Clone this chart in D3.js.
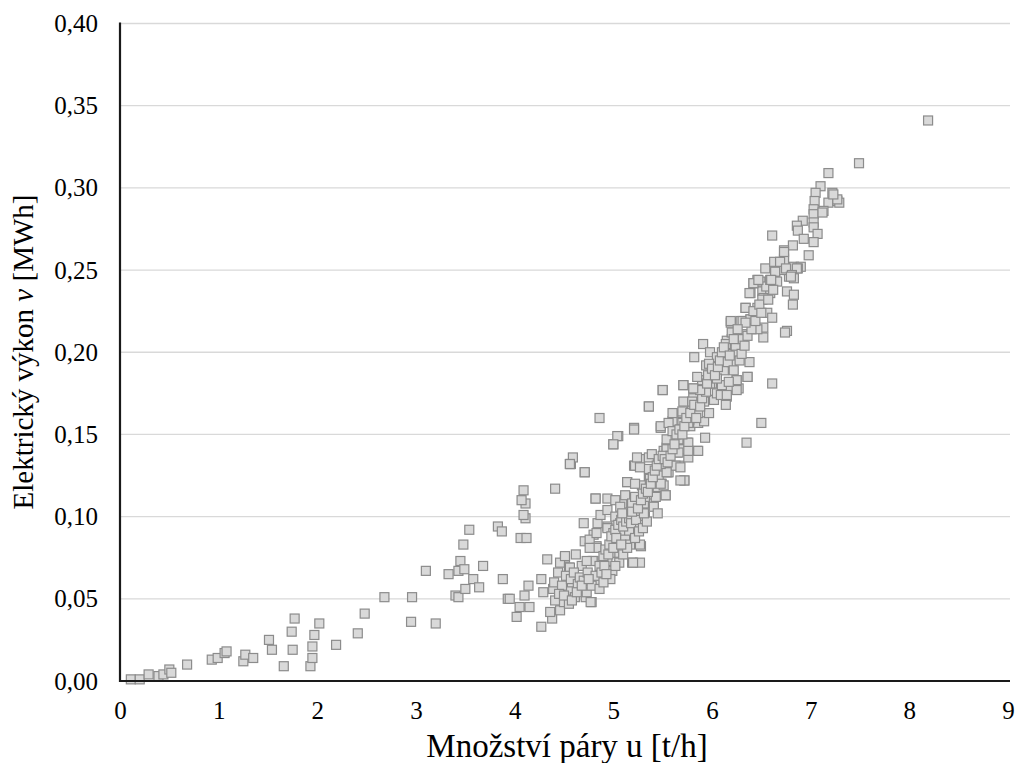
<!DOCTYPE html>
<html>
<head>
<meta charset="utf-8">
<script src="https://cdn.jsdelivr.net/npm/d3@7"></script>
<style>
  html, body { margin: 0; padding: 0; background: #fff; }
  svg { display: block; }
  svg text { font-family: "Liberation Serif", "Times New Roman", "DejaVu Serif", serif; fill: #000; }
</style>
</head>
<body>
<svg id="chart" width="1015" height="763"></svg>
<script>
// ---- data: [steam flow u (t/h), electric output v (MWh)] ----
const lowPoints = [
  [0.11,0.001],[0.20,0.001],[0.29,0.004],[0.39,0.003],[0.44,0.004],[0.50,0.007],[0.52,0.005],
  [0.68,0.010],[0.93,0.013],[0.99,0.014],[1.06,0.017],[1.08,0.018],[1.25,0.012],[1.27,0.016],
  [1.35,0.014],[1.51,0.025],[1.54,0.019],[1.66,0.009],[1.74,0.030],[1.75,0.019],[1.77,0.038],
  [1.93,0.009],[1.95,0.014],[1.95,0.021],[1.97,0.028],[2.02,0.035],[2.19,0.022],[2.41,0.029],
  [2.48,0.041],[2.68,0.051],[2.95,0.036],[2.96,0.051],[3.10,0.067],[3.20,0.035]
];
const scatterPoints = [
  [3.33,0.065],[3.40,0.052],[3.43,0.051],[3.43,0.067],[3.45,0.073],[3.48,0.083],[3.49,0.068],
  [3.50,0.056],[3.54,0.092],[3.58,0.062],[3.64,0.057],[3.68,0.070],[3.83,0.094],[3.87,0.091],
  [3.88,0.062],[3.93,0.050],[4.02,0.039],[4.05,0.045],[4.15,0.045],[4.10,0.052],[4.14,0.058],
  [4.06,0.087],[4.12,0.087],[4.11,0.099],[4.09,0.101],[4.11,0.108],[4.07,0.110],[4.09,0.116],
  [4.27,0.033],[4.33,0.074],[4.27,0.062],[4.29,0.054],[4.38,0.038],[4.36,0.042],[4.46,0.043],
  [4.41,0.117],[4.57,0.132],[4.59,0.136],[4.56,0.132],[4.71,0.127],[4.86,0.160],[5.36,0.167],
  [5.21,0.154],[5.05,0.149],[5.00,0.144],[5.50,0.177],[6.61,0.181],[6.50,0.157],[6.35,0.145],
  [6.76,0.213],[6.74,0.212],[6.61,0.271],[8.19,0.341],[7.49,0.315]
];
const bandLower = [
  [4.70,0.096],[4.82,0.111],[5.72,0.122],[5.53,0.113],[5.28,0.082],[5.27,0.072],[5.19,0.072],
  [4.78,0.048],[4.51,0.075],[4.46,0.072],[4.55,0.069],[4.68,0.070],[4.62,0.077],[4.80,0.073],
  [4.94,0.073],[4.99,0.067],[5.05,0.078],[5.15,0.090],[5.21,0.092],[4.80,0.089],[4.83,0.082],
  [4.94,0.094],[5.02,0.085],[5.09,0.101],[5.31,0.100],[5.38,0.107],[5.41,0.112],[5.49,0.120],
  [5.55,0.127],[5.14,0.121],[5.21,0.131],[5.27,0.133],[5.36,0.123],[5.51,0.140],[5.66,0.147],
  [5.70,0.163],[5.80,0.165],[5.75,0.145],[5.67,0.131],[5.57,0.144],[5.48,0.154],[5.60,0.158],
  [3.95,0.050],[4.41,0.049],[4.39,0.056],[4.50,0.048],[4.55,0.047],[4.55,0.055],[4.58,0.060],
  [4.61,0.051],[4.67,0.056],[4.72,0.051],[4.73,0.054],[4.77,0.048],[4.80,0.063],[4.85,0.059],
  [4.51,0.076],[4.56,0.069],[4.71,0.085],[4.76,0.086],[4.79,0.073],[4.83,0.081],[4.87,0.068],
  [4.97,0.078],[4.83,0.090],[4.94,0.093],[5.04,0.085],[4.84,0.096],[4.87,0.101],[4.94,0.104],
  [5.02,0.100],[5.07,0.096],[5.11,0.090],[5.16,0.091],[5.27,0.083],[5.20,0.072],[5.09,0.108],
  [5.19,0.105],[5.22,0.100],[5.31,0.108],[5.41,0.108],[5.32,0.100],[5.26,0.095],[4.73,0.073],
  [4.76,0.081],[5.00,0.090],
  [4.40,0.060],[4.44,0.066],[4.48,0.058],[4.52,0.064],[4.57,0.062],[4.60,0.066],[4.64,0.059],
  [4.66,0.063],[4.70,0.061],[4.74,0.066],[4.78,0.058],[4.82,0.064],[4.86,0.070],[4.90,0.076],
  [4.92,0.080],[4.96,0.083],[4.98,0.088],[5.02,0.092],[5.05,0.095],[5.08,0.098],[4.45,0.053],
  [4.50,0.052],[4.58,0.049],[4.63,0.054],[4.68,0.058],[4.75,0.062],[4.88,0.066],[4.91,0.070],
  [4.95,0.077],[5.00,0.081],[5.03,0.087],[5.10,0.094],[5.13,0.097],[5.16,0.099],[5.18,0.096],
  [5.23,0.098],[5.12,0.086],[5.17,0.083],[5.22,0.087],[5.26,0.091],[5.30,0.093],[5.34,0.097],
  [5.06,0.072],[5.10,0.077],[5.14,0.081],[4.97,0.062],[5.02,0.070],[5.08,0.083],[4.86,0.056],
  [4.90,0.060],[4.93,0.065]
];
const bandMiddle = [
  [5.04,0.149],[5.00,0.144],[5.21,0.153],[5.36,0.167],[5.50,0.177],[4.56,0.132],[4.71,0.127],
  [4.82,0.111],[4.94,0.111],[5.02,0.110],[5.12,0.113],[5.14,0.121],[5.22,0.131],[5.27,0.135],
  [5.36,0.136],[5.36,0.129],[5.29,0.119],[5.37,0.123],[5.46,0.125],[5.45,0.118],[5.51,0.119],
  [5.07,0.106],[5.19,0.108],[5.31,0.108],[5.41,0.106],[5.19,0.103],[5.09,0.102],[5.31,0.102],
  [5.54,0.142],[5.48,0.133],[5.56,0.127],[5.63,0.131],[5.68,0.130],[5.76,0.136],[5.72,0.122],
  [5.65,0.139],[5.70,0.141],[5.76,0.145],[5.85,0.140],[5.93,0.148],[5.54,0.147],[5.66,0.147],
  [5.48,0.155],[5.56,0.157],[5.70,0.157],[5.78,0.155],[5.86,0.157],[5.92,0.158],[5.60,0.163],
  [5.70,0.164],[5.80,0.165],[5.77,0.159],[5.86,0.163],[5.97,0.163],[5.71,0.170],[5.81,0.172],
  [5.92,0.175],[6.00,0.171],[5.81,0.178],[5.71,0.180],[5.90,0.181],[6.00,0.181],[5.45,0.102],
  [5.22,0.112],[5.32,0.112],[5.43,0.112],[5.53,0.113],[5.22,0.120],[5.48,0.120],[5.54,0.127],
  [5.68,0.122],[5.27,0.130],[5.48,0.132],[5.24,0.136],[5.39,0.138],[5.54,0.141],[5.66,0.139],
  [5.76,0.140],[5.86,0.140],[5.60,0.152],[5.68,0.153],[5.76,0.157],[5.80,0.170],[5.92,0.170],
  [6.02,0.171],[6.05,0.175],[6.15,0.173],[6.14,0.168],
  [5.25,0.105],[5.28,0.110],[5.30,0.114],[5.33,0.117],[5.35,0.115],[5.38,0.120],[5.40,0.124],
  [5.42,0.128],[5.44,0.131],[5.46,0.135],[5.50,0.137],[5.52,0.135],[5.55,0.133],[5.58,0.137],
  [5.60,0.141],[5.62,0.144],[5.64,0.150],[5.67,0.153],[5.70,0.150],[5.72,0.155],[5.74,0.160],
  [5.78,0.163],[5.82,0.168],[5.84,0.160],[5.88,0.167],[5.90,0.172],[5.94,0.176]
];
const bandUpper = [
  [5.71,0.180],[5.82,0.197],[5.91,0.205],[5.98,0.200],[6.05,0.197],[5.94,0.192],[6.05,0.189],
  [6.12,0.189],[6.15,0.198],[6.20,0.194],[6.27,0.201],[6.38,0.194],[6.36,0.185],[6.25,0.183],
  [6.19,0.179],[6.10,0.180],[5.98,0.181],[5.90,0.183],[5.88,0.177],[5.81,0.178],[6.09,0.174],
  [6.15,0.174],[6.27,0.178],[6.20,0.208],[6.27,0.205],[6.15,0.207],[6.31,0.211],[6.19,0.218],
  [6.29,0.219],[6.39,0.220],[6.52,0.215],[6.52,0.209],[6.46,0.214],[6.56,0.224],[6.61,0.221],
  [6.34,0.227],[6.46,0.227],[6.39,0.236],[6.42,0.242],[6.49,0.243],[6.51,0.237],[6.59,0.236],
  [6.59,0.243],[6.52,0.233],[6.64,0.249],[6.68,0.254],[6.25,0.183],[6.25,0.177],[6.17,0.182],
  [5.95,0.181],[6.05,0.184],[5.85,0.185],[5.97,0.193],[6.15,0.199],[6.25,0.200],[6.14,0.205],
  [6.24,0.204],[6.31,0.208],[6.20,0.212],[6.31,0.219],[6.19,0.219],[6.34,0.227],[6.39,0.220],
  [6.51,0.232],[6.66,0.243],[6.54,0.251],[6.63,0.255],[6.73,0.257],[6.83,0.252],[6.90,0.252],
  [6.36,0.185],[6.38,0.236],[6.76,0.237],[6.83,0.235],[6.78,0.246],[6.82,0.247],[6.87,0.251],
  [6.73,0.250],[6.82,0.229],
  [5.96,0.186],[6.00,0.190],[6.03,0.186],[6.06,0.191],[6.08,0.195],[6.10,0.200],[6.12,0.203],
  [6.16,0.194],[6.18,0.198],[6.22,0.189],[6.28,0.195],[6.30,0.199],[6.33,0.204],[6.36,0.210],
  [6.40,0.214],[6.44,0.219],[6.42,0.225],[6.48,0.229],[6.50,0.224],[6.55,0.240],[6.57,0.232],
  [6.62,0.238],[6.34,0.218],[6.26,0.214],[6.22,0.208]
];
const topPoints = [
  [7.18,0.309],[7.10,0.301],[7.05,0.297],[7.22,0.297],[7.18,0.291],[7.27,0.292],[7.04,0.292],
  [7.03,0.287],[7.13,0.286],[7.03,0.284],[7.03,0.279],[6.92,0.280],[6.86,0.277],[6.87,0.274],
  [7.03,0.276],[7.07,0.272],[6.93,0.269],[7.03,0.267],[6.82,0.265],[6.98,0.259],[6.73,0.262],
  [6.73,0.256],[6.69,0.255],[6.64,0.249],[6.75,0.251],[6.86,0.251],[6.81,0.247],[6.83,0.245],
  [6.59,0.244],[6.46,0.244],[6.42,0.242],[7.29,0.291],[7.27,0.293],[7.23,0.296],[7.12,0.285],
  [6.73,0.261],[6.47,0.244],[6.60,0.244],[6.80,0.246]
];

const xTicks = [0,1,2,3,4,5,6,7,8,9];
const yTicks = [0,0.05,0.10,0.15,0.20,0.25,0.30,0.35,0.40];
const xTitle = "Množství páry u [t/h]";
const yTitleParts = ["Elektrický výkon ", "v", " [MWh]"];

const allPoints = [].concat(lowPoints, scatterPoints, bandLower, bandMiddle, bandUpper, topPoints);

// ---- layout ----
const FONT = "'Liberation Serif', 'Times New Roman', 'DejaVu Serif', serif";
const svg = d3.select("#chart");
const plotLeft = 120, plotRight = 1008, plotTop = 23.5, plotBottom = 681;
const x = d3.scaleLinear().domain([0, 9]).range([plotLeft, plotRight]);
const y = d3.scaleLinear().domain([0, 0.40]).range([plotBottom, plotTop]);
const fmtY = v => d3.format(".2f")(v).replace(".", ",");

// gridlines
svg.append("g")
  .selectAll("line")
  .data(yTicks.filter(d => d > 0))
  .join("line")
  .attr("x1", plotLeft).attr("x2", 1010)
  .attr("y1", d => y(d)).attr("y2", d => y(d))
  .attr("stroke", "#d9d9d9").attr("stroke-width", 1.3);

// y axis
const yAxis = svg.append("g")
  .attr("transform", `translate(${plotLeft},0)`)
  .call(d3.axisLeft(y).tickValues(yTicks).tickFormat(fmtY).tickSize(0).tickPadding(22));
yAxis.attr("font-family", FONT).attr("font-size", 25);
yAxis.select(".domain").remove();
yAxis.selectAll("text")
  .style("font-family", FONT)
  .style("font-size", "25px").attr("fill", "#000");

// x axis
const xAxis = svg.append("g")
  .attr("transform", `translate(0,${plotBottom})`)
  .call(d3.axisBottom(x).tickValues(xTicks).tickFormat(d3.format("d")).tickSize(0).tickPadding(20));
xAxis.attr("font-family", FONT).attr("font-size", 25);
xAxis.select(".domain").remove();
xAxis.selectAll("text")
  .style("font-family", FONT)
  .style("font-size", "25px").attr("fill", "#000");

// points
const s = 9;
svg.append("g")
  .selectAll("rect")
  .data(allPoints)
  .join("rect")
  .attr("x", d => x(d[0]) - s / 2)
  .attr("y", d => y(d[1]) - s / 2)
  .attr("width", s).attr("height", s)
  .attr("fill", "#d9d9d9")
  .attr("stroke", "#8c8c8c")
  .attr("stroke-width", 1.2);

// axis lines
svg.append("line")
  .attr("x1", plotLeft).attr("x2", plotLeft).attr("y1", plotTop - 1).attr("y2", plotBottom + 1)
  .attr("stroke", "#1a1a1a").attr("stroke-width", 2.2);
svg.append("line")
  .attr("x1", plotLeft - 1).attr("x2", 1010).attr("y1", plotBottom).attr("y2", plotBottom)
  .attr("stroke", "#1a1a1a").attr("stroke-width", 2.2);

// titles
svg.append("text")
  .attr("x", 567).attr("y", 757)
  .attr("text-anchor", "middle")
  .style("font-family", FONT)
  .style("font-size", "33px")
  .text(xTitle);

const yt = svg.append("text")
  .attr("transform", `translate(33,352) rotate(-90)`)
  .attr("text-anchor", "middle")
  .style("font-family", FONT)
  .style("font-size", "29px");
yt.append("tspan").text(yTitleParts[0]);
yt.append("tspan").style("font-style", "italic").text(yTitleParts[1]);
yt.append("tspan").text(yTitleParts[2]);
</script>
</body>
</html>
